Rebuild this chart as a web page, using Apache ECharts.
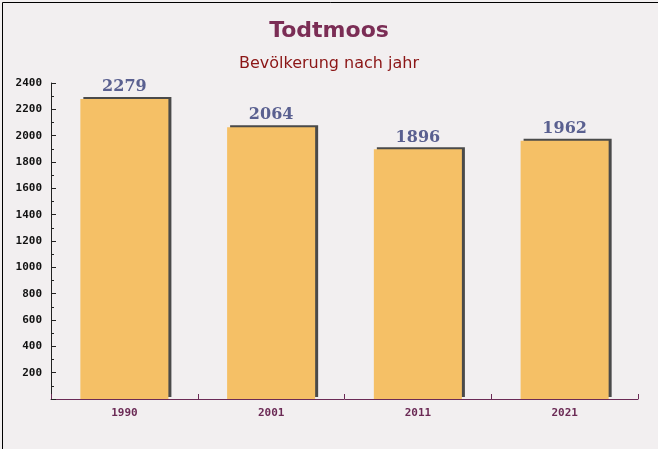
<!DOCTYPE html>
<html><head><meta charset="utf-8">
<script src="https://cdn.jsdelivr.net/npm/echarts@6/dist/echarts.min.js"></script>
<style>html,body{margin:0;padding:0;background:#f2eff0}#c{width:658px;height:449px}</style>
</head><body><div id="c"></div>
<script>
const titleText = 'Todtmoos';
const subtitleText = 'Bevölkerung nach jahr';
const categories = ['1990', '2001', '2011', '2021'];
const values = [2279, 2064, 1896, 1962];
const yMin = 0, yMax = 2400, yInterval = 200;

const chart = echarts.init(document.getElementById('c'), null, {renderer: 'canvas'});
chart.setOption({
  backgroundColor: '#f2eff0',
  animation: false,
  title: [
    {text: titleText, left: 'center', top: 15, textStyle: {fontFamily: 'DejaVu Sans', fontWeight: 'bold', fontSize: 22, color: '#7b2d55'}},
    {text: subtitleText, left: 'center', top: 51, textStyle: {fontFamily: 'DejaVu Sans', fontWeight: 'normal', fontSize: 16, color: '#8b1515'}}
  ],
  grid: {left: 51, right: 20, top: 83, bottom: 50},
  xAxis: {
    type: 'category', data: categories,
    axisLine: {lineStyle: {color: '#6b2a55', width: 1}},
    axisTick: {show: true, inside: true, length: 5, lineStyle: {color: '#6b2a55'}},
    axisLabel: {fontFamily: 'DejaVu Sans Mono', fontWeight: 'bold', fontSize: 11, color: '#6b2a55', margin: 9}
  },
  yAxis: {
    type: 'value', min: yMin, max: yMax, interval: yInterval,
    axisLine: {show: true, lineStyle: {color: '#222', width: 1}},
    axisTick: {show: true, inside: true, length: 5, lineStyle: {color: '#222'}},
    minorTick: {show: true, splitNumber: 2, length: 3, lineStyle: {color: '#222'}},
    splitLine: {show: false},
    axisLabel: {fontFamily: 'DejaVu Sans Mono', fontWeight: 'bold', fontSize: 11, color: '#111', margin: 9,
      formatter: v => v === 0 ? '' : String(v)}
  },
  series: [{
    type: 'bar', data: values, barWidth: '60%',
    itemStyle: {color: '#f5c066', borderWidth: 0,
      shadowColor: '#4a4a4a', shadowBlur: 0, shadowOffsetX: 3, shadowOffsetY: -2},
    label: {show: true, position: 'top', distance: 4, fontFamily: 'DejaVu Serif', fontWeight: 'bold', fontSize: 16, color: '#5a6090'}
  }],
  graphic: [{type: 'rect', left: 0, top: 0, shape: {width: 657, height: 448}, style: {fill: 'none', stroke: '#000', lineWidth: 1}, silent: true}]
});
</script></body></html>
